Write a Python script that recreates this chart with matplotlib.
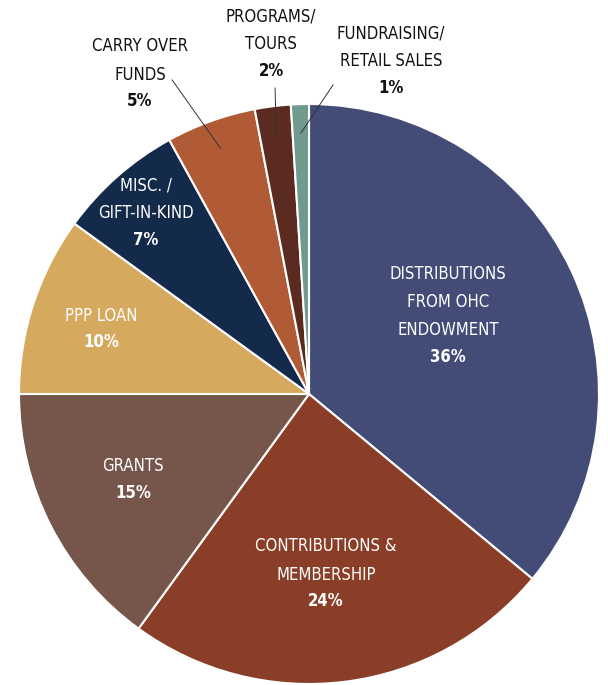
import numpy as np
import matplotlib.pyplot as plt

# revenue breakdown
labels = ['DISTRIBUTIONS\nFROM OHC\nENDOWMENT', 'CONTRIBUTIONS &\nMEMBERSHIP', 'GRANTS', 'PPP LOAN',
          'MISC. /\nGIFT-IN-KIND', 'CARRY OVER\nFUNDS', 'PROGRAMS/\nTOURS', 'FUNDRAISING/\nRETAIL SALES']
values = [36, 24, 15, 10, 7, 5, 2, 1]
colors = ['#434C76', '#8A3E27', '#76554B', '#D6AA5E', '#142A4A', '#B15B36', '#5B2B22', '#6F9A8D']

# where each percent line sits (data coords, radius 1 pie)
pct_xy = [(0.479, 0.128), (0.059, -0.714), (-0.607, -0.341), (-0.717, 0.179),
          (-0.562, 0.531), (-0.583, 1.010), (-0.131, 1.114), (0.283, 1.055)]
outside = [False, False, False, False, False, True, True, True]
leader_start = {5: (-0.472, 1.083), 6: (-0.117, 1.055), 7: (0.083, 1.066)}

plt.rcParams['font.family'] = 'DejaVu Sans'
plt.rcParams['font.stretch'] = 'condensed'

fig = plt.figure(figsize=(6.08, 6.85), dpi=100)
R = 290
cx, cy = 309, 394
ax = fig.add_axes([(cx - R) / 608, (685 - cy - R) / 685, 2 * R / 608, 2 * R / 685])

wedges, _ = ax.pie(values, colors=colors, startangle=90, counterclock=False, radius=1,
                   wedgeprops=dict(edgecolor='white', linewidth=1.5))
ax.set_xlim(-1, 1)
ax.set_ylim(-1, 1)
ax.axis('off')

pitch = 27 / R
for i, w in enumerate(wedges):
    x, y = pct_xy[i]
    col = '#111111' if outside[i] else 'white'
    ax.text(x, y + pitch * 0.65, labels[i], ha='center', va='bottom', color=col,
            fontsize=12, linespacing=1.73, clip_on=False)
    ax.text(x, y, f'{values[i]}%', ha='center', va='center', color=col,
            fontsize=12, fontweight='bold', clip_on=False)
    if i in leader_start:
        mid = np.deg2rad((w.theta1 + w.theta2) / 2)
        x0, y0 = leader_start[i]
        ax.plot([x0, 0.9 * np.cos(mid)], [y0, 0.9 * np.sin(mid)], color='#333333',
                linewidth=0.7, clip_on=False)

fig.savefig('out.png', dpi=100)
